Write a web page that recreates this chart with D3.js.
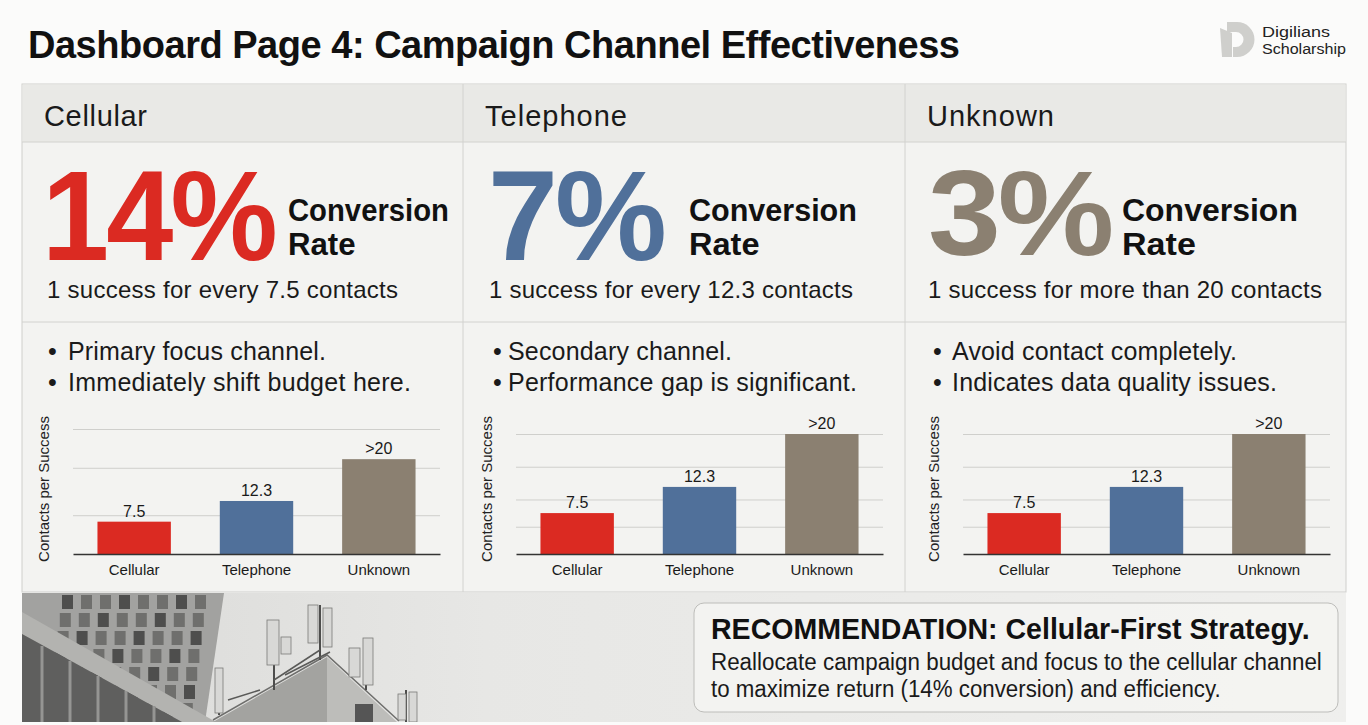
<!DOCTYPE html>
<html>
<head>
<meta charset="utf-8">
<script src="https://cdn.jsdelivr.net/npm/d3@7"></script>
<style>
  body { margin: 0; background: #fbfbfa; }
  svg { display: block; font-family: "Liberation Sans", Arial, sans-serif; }
</style>
</head>
<body>
<svg width="1368" height="725"></svg>
<script>
// ---- data ----
const channels = ['Cellular', 'Telephone', 'Unknown'];
const conversionRates = [14, 7, 3];
const contactsPerSuccess = [7.5, 12.3, 22];   // "Unknown" is drawn just above 20
const barLabels = ['7.5', '12.3', '>20'];
const subtitles = [
    '1 success for every 7.5 contacts',
    '1 success for every 12.3 contacts',
    '1 success for more than 20 contacts'
];
const bullets = [
    ['Primary focus channel.', 'Immediately shift budget here.'],
    ['Secondary channel.', 'Performance gap is significant.'],
    ['Avoid contact completely.', 'Indicates data quality issues.']
];
const yMax = [29, 22, 22];
const gridTicks = [[9, 20, 29], [5, 10, 16, 22], [5, 10, 16, 22]];

const colors = ['#db2a22', '#50709a', '#8b8071'];

const svg = d3.select('svg');
const width = +svg.attr('width');
const height = +svg.attr('height');

// stretch/shrink a text's letter spacing so it spans a given width
const fit = (sel, w) => sel.each(function () {
    const n = this.getComputedTextLength();
    const chars = this.textContent.length;
    d3.select(this).attr('letter-spacing', (w - n) / Math.max(1, chars - 1));
});
// squeeze the glyphs horizontally instead (keeps the height)
const squeeze = (sel, w) => sel.each(function () {
    const n = this.getComputedTextLength();
    const s = w / n;
    const x0 = +this.getAttribute('x');
    d3.select(this).attr('transform', `translate(${x0},0) scale(${s},1) translate(${-x0},0)`);
});

///////////////////////// title + logo /////////////////////////
svg.append('text')
    .attr('x', 28).attr('y', 58)
    .attr('font-size', 38).attr('font-weight', 700).attr('fill', '#111')
    .text('Dashboard Page 4: Campaign Channel Effectiveness')
    .call(fit, 932);

const logo = svg.append('g').attr('fill', '#cfcfcc');
logo.append('path').attr('d', 'M1227,22 H1237 A17.5,17.5 0 0 1 1237,57 H1233 V47 H1236 A7.5,7.5 0 0 0 1236,32 H1227 Z');
logo.append('path').attr('d', 'M1220,28 L1232,33 L1232,57 L1222,57 Z');
svg.append('text').attr('x', 1262).attr('y', 37).attr('font-size', 15).attr('fill', '#222')
    .text('Digilians').call(squeeze, 68);
svg.append('text').attr('x', 1262).attr('y', 54).attr('font-size', 15).attr('fill', '#222')
    .text('Scholarship').call(squeeze, 84);

///////////////////////// panel frame /////////////////////////
const panelX = [22, 463, 905];
const panelRight = 1346;
svg.append('rect').attr('x', 22).attr('y', 84).attr('width', panelRight - 22).attr('height', 508)
    .attr('fill', '#f3f3f1').attr('stroke', '#cfcfcc');
svg.append('rect').attr('x', 22.5).attr('y', 84.5).attr('width', panelRight - 23).attr('height', 57.5)
    .attr('fill', '#e9e9e6');
[142, 322].forEach(yy => svg.append('line')
    .attr('x1', 22).attr('x2', panelRight).attr('y1', yy).attr('y2', yy)
    .attr('stroke', '#d2d2cf'));
panelX.slice(1).forEach(xx => svg.append('line')
    .attr('x1', xx).attr('x2', xx).attr('y1', 84).attr('y2', 592)
    .attr('stroke', '#d2d2cf'));

///////////////////////// panel texts /////////////////////////
const headerW = [103, 142, 127];
const numX = [42, 488, 928];
const numW = [233, 176, 183];
const numSize = [128, 128, 121];
const numBase = [260, 260, 255];
const convX = [288, 689, 1122];
const convW = [161, 168, 176];
const subX = [47, 489, 928];
const subW = [351, 364, 394];
const bulletX = [48, 493, 933];
const bulletTextX = [68, 508, 952];
const bulletW = [[258, 343], [224, 349], [285, 325]];

channels.forEach((ch, i) => {
    svg.append('text').attr('x', panelX[i] + 22).attr('y', 126)
        .attr('font-size', 29).attr('fill', '#1a1a1a').text(ch)
        .call(fit, headerW[i]);

    svg.append('text').attr('x', numX[i]).attr('y', numBase[i])
        .attr('font-size', numSize[i]).attr('font-weight', 700).attr('fill', colors[i])
        .attr('letter-spacing', -3)
        .text(conversionRates[i] + '%')
        .call(squeeze, numW[i]);

    svg.append('text').attr('x', convX[i]).attr('y', 221)
        .attr('font-size', 32).attr('font-weight', 700).attr('fill', '#111')
        .text('Conversion').call(squeeze, convW[i]);
    svg.append('text').attr('x', convX[i]).attr('y', 255)
        .attr('font-size', 32).attr('font-weight', 700).attr('fill', '#111')
        .text('Rate').call(squeeze, convW[i] * 0.42);

    svg.append('text').attr('x', subX[i]).attr('y', 298)
        .attr('font-size', 24).attr('fill', '#1a1a1a').text(subtitles[i])
        .call(fit, subW[i]);

    bullets[i].forEach((b, j) => {
        svg.append('text').attr('x', bulletX[i]).attr('y', 360 + j * 30.5)
            .attr('font-size', 25).attr('fill', '#1a1a1a').text('•');
        svg.append('text').attr('x', bulletTextX[i]).attr('y', 360 + j * 30.5)
            .attr('font-size', 25).attr('fill', '#1a1a1a').text(b)
            .call(fit, bulletW[i][j]);
    });
});

///////////////////////// bar charts /////////////////////////
const plotLeft = [73, 516, 963];
const plotW = 367;
const baseY = 554;
const plotTop = [429, 434, 434];

const barData = channels.map((c, k) => ({ channel: c, value: contactsPerSuccess[k], label: barLabels[k], color: colors[k] }));

const renderChart = (i) => {
    const g = svg.append('g');
    const x = d3.scaleBand().domain(channels)
        .range([plotLeft[i], plotLeft[i] + plotW])
        .paddingInner(0.4).paddingOuter(0.2);
    const y = d3.scaleLinear().domain([0, yMax[i]]).range([baseY, plotTop[i]]);

    // gridlines
    const grid = g.append('g').attr('transform', `translate(${plotLeft[i]},0)`)
        .call(d3.axisLeft(y).tickValues(gridTicks[i]).tickSize(-plotW).tickFormat(''));
    grid.select('.domain').remove();
    grid.selectAll('line').attr('stroke', '#cfcfcc').attr('stroke-width', 1);

    g.selectAll('rect.bar')
        .data(barData)
        .enter()
        .append('rect')
        .attr('class', 'bar')
        .attr('x', d => x(d.channel))
        .attr('y', d => y(d.value))
        .attr('width', x.bandwidth())
        .attr('height', d => baseY - y(d.value))
        .attr('fill', d => d.color);

    g.selectAll('text.val')
        .data(barData)
        .enter()
        .append('text')
        .attr('class', 'val')
        .attr('x', d => x(d.channel) + x.bandwidth() / 2)
        .attr('y', d => y(d.value) - 5)
        .attr('text-anchor', 'middle')
        .attr('font-size', 16)
        .attr('fill', '#1a1a1a')
        .text(d => d.label);

    const xAxis = g.append('g').attr('transform', `translate(0,${baseY})`)
        .call(d3.axisBottom(x).tickSize(0).tickPadding(10));
    xAxis.select('.domain').attr('stroke', '#333').attr('stroke-width', 1.3);
    xAxis.selectAll('text')
        .attr('font-family', '"Liberation Sans", Arial, sans-serif')
        .attr('font-size', 15).attr('fill', '#1a1a1a');

    g.append('text')
        .attr('transform', `translate(${plotLeft[i] - 24},489) rotate(-90)`)
        .attr('text-anchor', 'middle')
        .attr('font-size', 15).attr('fill', '#222')
        .text('Contacts per Success');
};
channels.forEach((c, i) => renderChart(i));

///////////////////////// photo strip /////////////////////////
const defs = svg.append('defs');
defs.append('clipPath').attr('id', 'photoClip')
    .append('rect').attr('x', 22).attr('y', 593).attr('width', panelRight - 22).attr('height', 129);
const sky = defs.append('linearGradient').attr('id', 'sky').attr('x1', 0).attr('x2', 1);
sky.append('stop').attr('offset', 0).attr('stop-color', '#d9d9d7');
sky.append('stop').attr('offset', 0.35).attr('stop-color', '#e7e7e5');
sky.append('stop').attr('offset', 1).attr('stop-color', '#efefed');

const photo = svg.append('g').attr('clip-path', 'url(#photoClip)');
photo.append('rect').attr('x', 22).attr('y', 593).attr('width', panelRight - 22).attr('height', 129).attr('fill', 'url(#sky)');

// tall office block on the left
photo.append('path').attr('d', 'M22,593 H224 L205,722 H22 Z').attr('fill', '#a2a2a0');
for (let c = 0; c < 8; c++) {
    for (let r = 0; r < 7; r++) {
        const wx = 62 + c * 19 - r * 2.2;
        const wy = 595 + r * 18;
        photo.append('rect').attr('x', wx).attr('y', wy).attr('width', 11).attr('height', 14)
            .attr('fill', (c + r) % 3 === 0 ? '#4e4e4d' : '#6f6f6d');
    }
}
photo.append('path').attr('d', 'M22,612 L22,634 L182,722 L216,722 Z').attr('fill', '#b3b3b0');
photo.append('path').attr('d', 'M22,634 L182,722 H22 Z').attr('fill', '#5f5f5e');
for (let k = 0; k < 5; k++) {
    photo.append('line').attr('x1', 42 + k * 28).attr('x2', 42 + k * 28)
        .attr('y1', 646 + k * 15).attr('y2', 722).attr('stroke', '#959593').attr('stroke-width', 3);
}

// rooftop with antennas
photo.append('path').attr('d', 'M213,722 L327,657 L327,722 Z').attr('fill', '#a3a3a0');
photo.append('path').attr('d', 'M327,657 L397,722 H327 Z').attr('fill', '#bdbdba');
photo.append('rect').attr('x', 355).attr('y', 704).attr('width', 18).attr('height', 18).attr('fill', '#555');
photo.append('path').attr('d', 'M213,720 L327,655 L399,721').attr('fill', 'none').attr('stroke', '#6e6e6c').attr('stroke-width', 1.5);

const masts = [[274, 620, 690], [320, 605, 660], [366, 638, 690], [219, 668, 715], [406, 690, 722]];
masts.forEach(m => photo.append('line').attr('x1', m[0]).attr('x2', m[0]).attr('y1', m[1]).attr('y2', m[2])
    .attr('stroke', '#4d4d4c').attr('stroke-width', 2));
[[274, 680, 320, 650], [285, 675, 330, 652], [228, 700, 260, 690]].forEach(l =>
    photo.append('line').attr('x1', l[0]).attr('y1', l[1]).attr('x2', l[2]).attr('y2', l[3])
        .attr('stroke', '#5a5a58').attr('stroke-width', 1.5));
const panels = [[267, 620, 12, 45], [281, 637, 10, 17], [308, 605, 10, 38], [323, 608, 9, 39],
    [363, 638, 10, 47], [349, 648, 11, 29], [215, 668, 8, 45], [398, 694, 8, 26], [409, 692, 8, 30]];
panels.forEach(p => photo.append('rect').attr('x', p[0]).attr('y', p[1]).attr('width', p[2]).attr('height', p[3])
    .attr('fill', '#d8d8d6').attr('stroke', '#7a7a78').attr('stroke-width', 0.8));

///////////////////////// recommendation box /////////////////////////
svg.append('rect').attr('x', 694).attr('y', 603).attr('width', 644).attr('height', 109).attr('rx', 10)
    .attr('fill', '#f3f3f1').attr('fill-opacity', 0.95).attr('stroke', '#bdbdba');
svg.append('text').attr('x', 711).attr('y', 639)
    .attr('font-size', 29).attr('font-weight', 700).attr('fill', '#111')
    .text('RECOMMENDATION: Cellular-First Strategy.').call(squeeze, 599);
svg.append('text').attr('x', 711).attr('y', 670)
    .attr('font-size', 23).attr('fill', '#1a1a1a')
    .text('Reallocate campaign budget and focus to the cellular channel').call(squeeze, 611);
svg.append('text').attr('x', 711).attr('y', 697)
    .attr('font-size', 23).attr('fill', '#1a1a1a')
    .text('to maximize return (14% conversion) and efficiency.').call(squeeze, 510);
</script>
</body>
</html>
